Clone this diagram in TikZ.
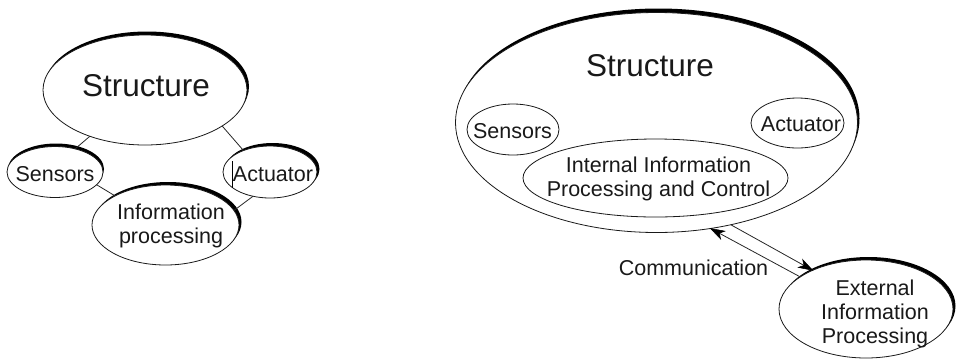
\documentclass[tikz,border=0pt]{standalone}
\usepackage{fontspec}
\setmainfont{Liberation Sans}
\usetikzlibrary{shapes.geometric,shadows,calc}
\begin{document}
\begin{tikzpicture}[x=1pt,y=-1pt,
  ell/.style={ellipse, draw=black!90, line width=0.8pt, fill=white, inner sep=0pt, outer sep=0pt},
  sh/.style 2 args={general shadow={fill=black, shadow xshift=#1pt, shadow yshift=#2pt}},
  big/.style={font=\fontsize{31.5}{36}\selectfont, inner sep=0pt, text=black!90},
  txt/.style={font=\fontsize{21.5}{24}\selectfont, align=center, inner sep=0pt, text=black!90},
  conn/.style={draw=black!85, line width=0.8pt},
  head/.style={fill=black, draw=black, line width=0.5pt, line join=miter}]
\useasboundingbox (0,0) rectangle (958,360);

% ---- left: structure with attached sensors, actuator and processing
\node[ell, sh={2}{3.5}, minimum width=204pt, minimum height=110pt] (lstruct) at (145,90) {};
\node[big] (lstruct-t) at (146,86) {Structure};
\node[ell, sh={1}{3}, minimum width=96pt, minimum height=51pt] (lsens) at (55,172) {};
\node[txt] (lsens-t) at (55,174) {Sensors};
\node[ell, sh={2.5}{3}, minimum width=94pt, minimum height=52pt] (lact) at (270,172) {};
\node[txt] (lact-t) at (273,174) {Actuator};
\coordinate (bar-top) at (232,161);
\coordinate (bar-bot) at (232,188);
\draw[line width=0.8pt] (bar-top) -- (bar-bot);
\node[ell, sh={2.5}{3}, minimum width=147pt, minimum height=80pt] (linfo) at (165.5,225) {};
\node[txt] (linfo-t) at (171,226) {Information\\processing};

\draw[conn] (lstruct.-140) -- (lsens.49);
\draw[conn] (lstruct.-25) -- (lact.141);
\draw[conn] (lsens.-17) -- (linfo.150);
\draw[conn] (lact.-125) -- (linfo.12);

% ---- right: structure containing its parts, external processing
\node[ell, sh={2}{4}, minimum width=402pt, minimum height=220pt] (rstruct) at (656.5,122.5) {};
\node[big] (rstruct-t) at (650,66) {Structure};
\node[ell, minimum width=92pt, minimum height=51pt] (rsens) at (513,129.5) {};
\node[txt] (rsens-t) at (512.5,131) {Sensors};
\node[ell, minimum width=93pt, minimum height=50pt] (ract) at (797.5,123) {};
\node[txt] (ract-t) at (801,124) {Actuator};
\node[ell, minimum width=265pt, minimum height=78pt] (rint) at (655.5,178) {};
\node[txt] (rint-t) at (658.5,179) {Internal Information\\Processing and Control};
\node[ell, sh={2.5}{3}, minimum width=174pt, minimum height=98pt] (ext) at (866,309) {};
\node[txt] (ext-t) at (875,314) {External\\Information\\Processing};
\node[txt] (comm) at (693.5,268) {Communication};

% two one-way links; heads drawn as dart shapes along each link
\draw[conn] (ext.154) -- (rstruct.-63);
\draw[conn] (rstruct.-54) -- (ext.144);
\fill[head] (rstruct.-63) -- ($(rstruct.-63)!14pt!(ext.154)!4.5pt!90:(ext.154)$) -- ($(rstruct.-63)!10pt!(ext.154)$) -- ($(rstruct.-63)!14pt!(ext.154)!4.5pt!-90:(ext.154)$) -- cycle;
\fill[head] (ext.144) -- ($(ext.144)!14pt!(rstruct.-54)!4.5pt!90:(rstruct.-54)$) -- ($(ext.144)!10pt!(rstruct.-54)$) -- ($(ext.144)!14pt!(rstruct.-54)!4.5pt!-90:(rstruct.-54)$) -- cycle;
\end{tikzpicture}
\end{document}
